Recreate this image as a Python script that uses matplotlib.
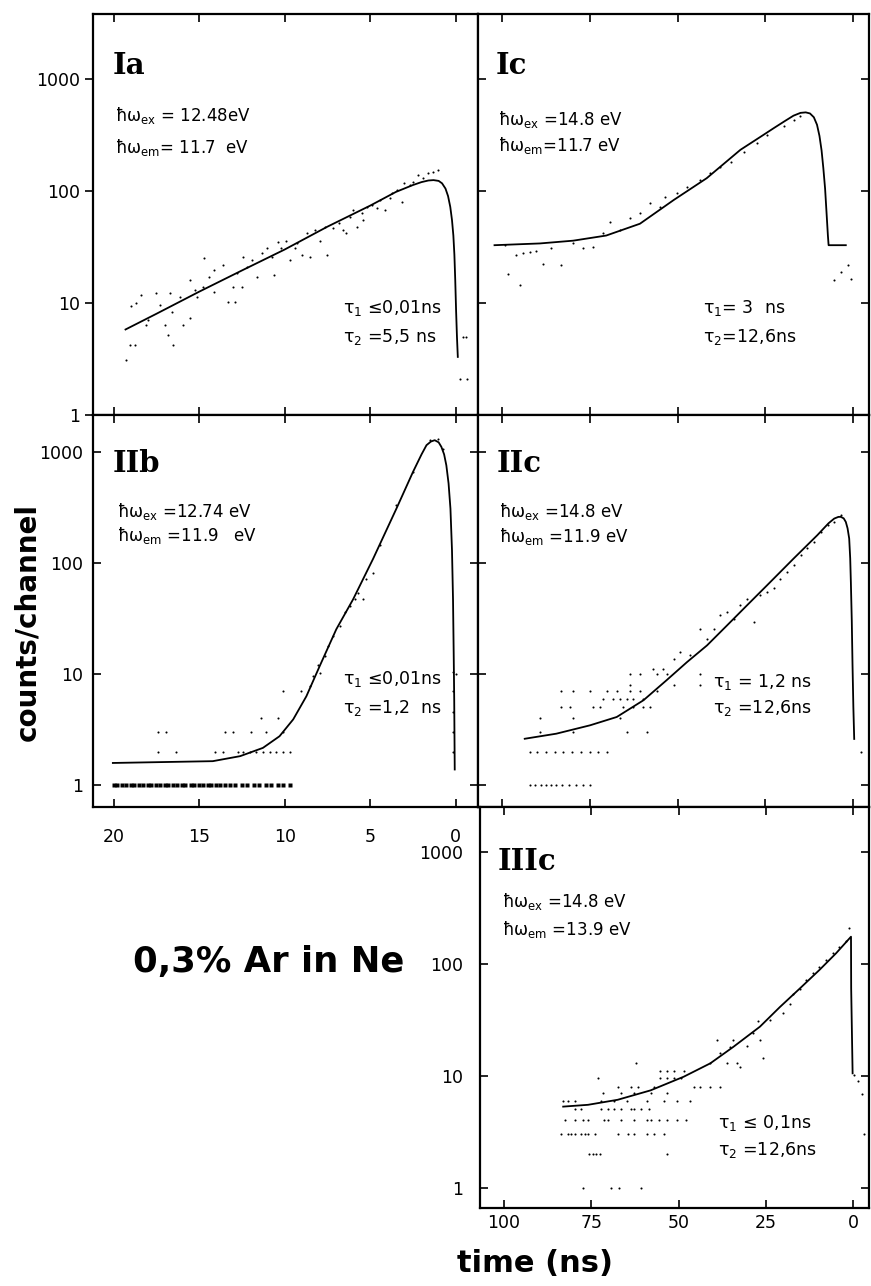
import matplotlib.pyplot as plt
from matplotlib.ticker import NullLocator

W, H = 871, 1286

# ---------------- data ----------------
# panel Ia (time in ns, counts per channel)
ia_fit_t = [19.3, 17.5, 15.0, 12.5, 10.0, 7.5, 5.0, 3.5, 2.5, 2.0, 1.6, 1.3,
            1.0, 0.8, 0.6, 0.45, 0.32, 0.22, 0.14, 0.08, 0.03, -0.02, -0.07,
            -0.12]
ia_fit_n = [5.8, 8.0, 12.6, 19.5, 30, 48, 74, 98, 113, 120, 124, 125,
            123, 117, 105, 90, 72, 55, 40, 27, 16, 8.5, 5, 3.3]
ia_pts_t = [19.26, 19.06, 18.77, 18.97, 18.67, 18.38, 18.09, 18.0, 17.5, 17.3,
            17.0, 16.8, 16.5, 16.6, 16.7, 16.1, 15.95, 15.55, 15.55, 15.26,
            15.1, 14.8, 14.7, 14.4, 14.1, 14.1, 13.6, 13.3, 13.0, 12.9,
            12.8, 12.5, 12.45, 12.2, 11.9, 11.6, 11.3, 11.05, 10.76, 10.6,
            10.4, 10.2, 9.9, 9.7, 9.4, 9.25, 9.0, 8.7, 8.5, 8.25,
            7.95, 7.55, 7.66, 7.2, 6.8, 6.6, 6.4, 6.2, 6.0, 5.8,
            5.5, 5.45, 5.2, 4.9, 4.6, 4.45, 4.15, 3.85, 3.7, 3.45,
            3.15, 3.0, 2.7, 2.5, 2.2, 1.9, 1.6, 1.35, 1.05,
            -0.41, -0.6, -0.23, -0.64]
ia_pts_n = [3.1, 4.2, 4.2, 9.4, 10, 11.8, 6.4, 7.0, 12.3, 9.6,
            6.4, 5.2, 4.2, 8.3, 12.3, 11.3, 6.4, 7.4, 16, 13,
            11.3, 14, 25, 17, 12.5, 19.7, 22, 10.2, 14, 10.2,
            18.5, 14, 25.7, 21, 24, 17, 28, 31, 25.7, 17.8,
            35, 31, 36, 24, 31, 34, 27, 42, 25.7, 45,
            36, 27, 48, 47, 52, 45, 42, 58, 67, 48,
            63, 55, 72, 75, 70, 83, 67, 86, 96, 102,
            80, 118, 113, 120, 139, 130, 145, 148, 154,
            5, 5, 2.1, 2.1]

# panel Ic
ic_fit_t = [102.1, 89.2, 79.7, 70.3, 60.7, 51.1, 41.7, 32.1, 26.0, 22.6,
            19.5, 17.0, 15.0, 13.5, 12.3, 11.2, 10.3, 9.6, 9.0, 8.5,
            8.0, 7.6, 7.2, 7.0, 2.1]
ic_fit_n = [32.8, 34, 36, 40, 51, 83, 130, 233, 310, 364,
            420, 470, 498, 503, 492, 455, 390, 310, 230, 160,
            105, 65, 40, 32.8, 32.8]
ic_pts_t = [99.2, 98.3, 94.9, 95.9, 94.0, 92.1, 90.2, 88.3, 85.9, 83.1,
            79.7, 76.9, 74.0, 71.1, 69.2, 66.4, 63.5, 60.7, 57.8, 54.9,
            53.5, 50.2, 47.3, 43.5, 40.7, 37.8, 34.9, 31.1, 27.3, 24.5,
            19.7, 16.9, 15.0, 5.4, 3.5, 1.6, 0.66]
ic_pts_n = [32.8, 18.3, 14.4, 26.7, 27.7, 28.3, 29.2, 22.5, 30.7, 21.7,
            34.4, 30.7, 31.7, 41.8, 53, 44.7, 56.9, 63, 77.5, 72,
            89, 95, 109, 125, 144, 165, 183, 225, 267, 317,
            377, 432, 463, 16, 19, 21.7, 16.5]

# panel IIb
iib_fit_t = [20.04, 14.2, 12.6, 11.27, 10.3, 9.5, 8.73, 7.95, 6.98, 6.0,
             4.83, 3.47, 2.5, 2.0, 1.71, 1.45, 1.23, 1.0, 0.84, 0.68,
             0.55, 0.42, 0.31, 0.22, 0.16, 0.12, 0.09, 0.06]
iib_fit_n = [1.58, 1.64, 1.82, 2.16, 2.75, 3.9, 6.3, 11.8, 25.3, 47,
             109, 308, 660, 950, 1150, 1240, 1275, 1220, 1110, 950,
             757, 520, 308, 130, 47, 15, 5.9, 1.38]
iib_ones_t = [20.0, 19.8, 19.5, 19.3, 19.0, 18.8, 18.5, 18.3, 18.0, 17.8,
              17.5, 17.3, 17.0, 16.8, 16.5, 16.3, 16.0, 15.8, 15.5, 15.3,
              15.0, 14.8, 14.5, 14.3, 14.0, 13.8, 13.5, 13.2, 12.9, 12.5,
              12.2, 11.8, 11.5, 11.1, 10.8, 10.4, 10.1, 9.7]
iib_pts_t = [17.41, 16.33, 14.09, 13.6, 12.73, 12.44, 12.05, 11.66, 11.27, 10.88,
             10.49, 10.1, 9.71,
             17.41, 16.92, 13.51, 13.02, 11.95, 11.07, 10.1,
             11.37, 10.39, 10.1,
             9.03, 8.54, 8.34, 8.05, 7.95, 7.66, 7.47, 7.18, 6.78, 6.49,
             6.2, 5.91, 5.71, 5.42, 5.23, 4.83, 4.44, 3.47, 2.5, 1.52,
             1.03, 0.74,
             0.16, 0.16, 0.16, 0.16, 0.16, -0.03]
iib_pts_n = [2, 2, 2, 2, 2, 2, 2, 2, 2, 2,
             2, 2, 2,
             3, 3, 3, 3, 3, 3, 3,
             4, 4, 7,
             7, 7.8, 9.6, 12, 10.3, 14.5, 17.7, 22, 27, 36,
             41, 47, 54, 47, 71, 82, 144, 330, 659, 1274,
             1320, 1070,
             10.4, 7, 4.5, 3, 2, 10]

# panel IIc
iic_fit_t = [93.5, 84.5, 74.9, 67.3, 59.7, 53.1, 47.3, 41.6, 35.9, 30.2,
             24.5, 16.9, 10.2, 7.0, 5.4, 4.2, 3.5, 2.7, 2.1, 1.6,
             1.14, 0.85, 0.66, 0.4, 0.19, -0.05, -0.29]
iic_fit_n = [2.61, 2.9, 3.45, 4.1, 5.8, 8.8, 12.8, 18.1, 27.4, 41.6,
             63, 110, 178, 228, 251, 260, 260, 252, 234, 205,
             166, 110, 67, 30, 12, 5, 2.6]
iic_ones_t = [92, 90.5, 89, 87.5, 86, 84.5, 83, 81, 79, 77, 75]
iic_twos_t = [92, 90, 87.5, 85, 82.5, 80, 77.5, 75, 72.5, 70]
iic_pts_t = [89.2, 79.7, 64.5, 58.8,
             89.2, 79.7, 66.4,
             83.1, 80.7, 74.0, 72.1, 65.4, 62.6, 59.7, 57.8,
             71.1, 68.3, 66.4, 64.5, 62.6, 59.7,
             83.1, 79.7, 74.9, 70.2, 67.3, 63.5, 60.7, 55.9,
             63.5, 51.1, 43.5,
             63.5, 60.7, 55.9, 53.1, 43.5,
             56.9, 54.0,
             51.1, 49.2, 46.4, 43.5, 41.6, 39.7, 37.8, 35.9, 34.0, 32.1,
             30.2, 28.3, 26.4, 24.5, 22.6, 20.7, 18.8, 16.9, 14.9, 13.1,
             11.1, 9.2, 7.3, 5.4, 3.5, -2.2]
iic_pts_n = [3, 3, 3, 3,
             4, 4, 4,
             5, 5, 5, 5, 5, 5, 5, 5,
             6, 6, 6, 6, 6, 6,
             7, 7, 7, 7, 7, 7, 7, 7,
             8, 8, 8,
             10, 10, 10, 10, 10,
             11, 11,
             13.7, 15.8, 14.7, 25.6, 20.8, 25.6, 33.8, 36.2, 31.5, 41.6,
             47.8, 29.4, 51, 55, 59, 72, 83, 95, 117, 135,
             155, 190, 218, 234, 268, 2]

# panel IIIc
iiic_fit_t = [83.0, 75.9, 67.4, 58.0, 48.5, 40.9, 34.3, 26.7, 21.0, 15.3,
              9.66, 4.9, 0.65, 0.6, 0.19]
iiic_fit_n = [5.3, 5.5, 6.1, 7.4, 9.8, 12.9, 18.1, 27.4, 41, 60,
              88, 124, 174, 60, 10.5]
iiic_pts_t = [77.4, 69.3, 67.0, 60.8,
              75.5, 74.5, 73.6, 72.6, 53.2,
              83.5, 81.6, 80.7, 79.7, 77.8, 76.9, 75.9, 74.0, 67.4, 64.5,
              62.7, 58.9, 57.0, 54.2,
              82.6, 79.7, 77.4, 75.9, 71.2, 70.3, 66.5, 62.7, 58.9, 57.9,
              55.6, 53.2, 50.4, 48.0,
              79.7, 77.8, 72.2, 70.3, 68.4, 66.5, 63.6, 62.7, 60.8, 58.4,
              83.0, 81.6, 79.7, 72.2, 68.4, 64.6, 58.9, 54.2, 50.4, 46.6,
              71.7, 66.5, 62.7, 58.0, 53.2,
              67.4, 63.6, 61.7, 57.0, 45.6, 43.8, 40.9, 38.1,
              73.1, 55.2, 53.2, 51.3, 49.4,
              55.2, 53.2, 51.3, 48.5,
              62.2, 40.9, 36.2,
              39.0, 38.1, 35.2, 34.3, 33.3, 32.4, 30.5, 28.6, 27.2, 26.7,
              25.8, 23.9, 20.1, 18.2, 17.2, 15.3, 13.4, 11.6, 9.7, 7.8,
              5.9, 3.98, 2.1, 1.1,
              -0.28, -2.6, -3.1, -1.3]
iiic_pts_n = [1, 1, 1, 1,
              2, 2, 2, 2, 2,
              3, 3, 3, 3, 3, 3, 3, 3, 3, 3,
              3, 3, 3, 3,
              4, 4, 4, 4, 4, 4, 4, 4, 4, 4,
              4, 4, 4, 4,
              5, 5, 5, 5, 5, 5, 5, 5, 5, 5,
              6, 6, 6, 6, 6, 6, 6, 6, 6, 6,
              7, 7, 7, 7, 7,
              8, 8, 8, 8, 8, 8, 8, 8,
              9.5, 9.5, 9.5, 9.5, 9.5,
              11, 11, 11, 11,
              13, 13, 13,
              20.8, 15.8, 18, 20.8, 13, 12, 18.6, 23.9, 30.5, 20.8,
              14.3, 31.6, 36, 44, 54, 60, 72, 82, 94, 108,
              124, 141, 158, 207,
              10.2, 6.9, 3.0, 9]

# panel texts
labels = ["Ia", "Ic", "IIb", "IIc", "IIIc"]
ex_text = [" = 12.48eV", " =14.8 eV", " =12.74 eV", " =14.8 eV", " =14.8 eV"]
em_text = ["= 11.7  eV", "=11.7 eV", " =11.9   eV", " =11.9 eV", " =13.9 eV"]
tau1_text = [" \u22640,01ns", "= 3  ns", " \u22640,01ns", " = 1,2 ns", " \u2264 0,1ns"]
tau2_text = [" =5,5 ns", "=12,6ns", " =1,2  ns", " =12,6ns", " =12,6ns"]

# ---------------- figure ----------------
plt.rcParams['font.family'] = ['DejaVu Sans']
plt.rcParams['mathtext.fontset'] = 'dejavusans'
fig = plt.figure(figsize=(W / 100, H / 100), dpi=100)


def box(x0, y0, x1, y1):
    return [x0 / W, 1 - y1 / H, (x1 - x0) / W, (y1 - y0) / H]


ax_ia = fig.add_axes(box(93, 14, 478, 415))
ax_ic = fig.add_axes(box(478, 14, 869, 415))
ax_iib = fig.add_axes(box(93, 415, 478, 807))
ax_iic = fig.add_axes(box(478, 415, 869, 807))
ax_iiic = fig.add_axes(box(480, 807, 869, 1208))

left_x = (21.2, -1.3)
right_x = (106.8, -4.5)

for ax, xl, yl, xt in [(ax_ia, left_x, (1, 3800), [20, 15, 10, 5, 0]),
                       (ax_ic, right_x, (1, 3800), [100, 75, 50, 25, 0]),
                       (ax_iib, left_x, (0.634, 2150), [20, 15, 10, 5, 0]),
                       (ax_iic, right_x, (0.634, 2150), [100, 75, 50, 25, 0]),
                       (ax_iiic, right_x, (0.66, 2500), [100, 75, 50, 25, 0])]:
    ax.set_yscale('log')
    ax.set_xlim(*xl)
    ax.set_ylim(*yl)
    ax.set_xticks(xt)
    ax.set_yticks([1, 10, 100, 1000])
    ax.yaxis.set_minor_locator(NullLocator())
    ax.xaxis.set_minor_locator(NullLocator())
    ax.tick_params(direction='in', length=6, width=1.2, top=True, right=True,
                   labelbottom=False, labelleft=False, labelsize=12.5)
    for s in ax.spines.values():
        s.set_linewidth(1.6)

for ax in [ax_ia, ax_iib, ax_iiic]:
    ax.tick_params(axis='y', labelleft=True)
    ax.set_yticklabels(['1', '10', '100', '1000'])
ax_ia.tick_params(axis='y', direction='out', pad=3)
ax_iib.tick_params(axis='y', pad=7)
ax_iiic.tick_params(axis='y', pad=12)
ax_iib.tick_params(axis='x', labelbottom=True, pad=15)
ax_iib.set_xticklabels(['20', '15', '10', '5', '0'])
ax_iiic.tick_params(axis='x', labelbottom=True, pad=4)
ax_iiic.set_xticklabels(['100', '75', '50', '25', '0'])

dot = dict(linestyle='none', marker='o', ms=1.5, color='black', mec='none')
fit = dict(color='black', lw=1.3)

ax_ia.plot(ia_pts_t, ia_pts_n, **dot)
ax_ia.plot(ia_fit_t, ia_fit_n, **fit)
ax_ic.plot(ic_pts_t, ic_pts_n, **dot)
ax_ic.plot(ic_fit_t, ic_fit_n, **fit)
ax_iib.plot(iib_ones_t, [1] * len(iib_ones_t), linestyle='none', marker='s',
            ms=2.2, color='black', mec='none')
ax_iib.plot(iib_pts_t, iib_pts_n, **dot)
ax_iib.plot(iib_fit_t, iib_fit_n, **fit)
ax_iic.plot(iic_ones_t, [1] * len(iic_ones_t), **dot)
ax_iic.plot(iic_twos_t, [2] * len(iic_twos_t), **dot)
ax_iic.plot(iic_pts_t, iic_pts_n, **dot)
ax_iic.plot(iic_fit_t, iic_fit_n, **fit)
ax_iiic.plot(iiic_pts_t, iiic_pts_n, **dot)
ax_iiic.plot(iiic_fit_t, iiic_fit_n, **fit)


def ftext(x, y, s, **kw):
    fig.text(x / W, 1 - y / H, s, va='center', **kw)


# label position, energy lines, tau lines (pixel coords)
pos = [((113, 66), (115, 115, 147), (343, 308, 337)),
       ((496, 66), (498, 120, 145), (703, 308, 337)),
       ((113, 464), (117, 511, 536), (343, 679, 708)),
       ((497, 464), (499, 511, 537), (713, 682, 708)),
       ((498, 862), (502, 902, 929), (718, 1123, 1150))]

for i, lab in enumerate(labels):
    (lx, ly), (ex, ey1, ey2), (tx, ty1, ty2) = pos[i]
    ftext(lx, ly, lab, fontsize=21, fontweight='bold', family='DejaVu Serif')
    ftext(ex, ey1, "\u0127\u03c9" + r"$_{\rm ex}$" + ex_text[i], fontsize=12)
    ftext(ex, ey2, "\u0127\u03c9" + r"$_{\rm em}$" + em_text[i], fontsize=12)
    ftext(tx, ty1, "\u03c4" + r"$_1$" + tau1_text[i], fontsize=12.5)
    ftext(tx, ty2, "\u03c4" + r"$_2$" + tau2_text[i], fontsize=12.5)

ftext(269, 962, "0,3% Ar in Ne", fontsize=25.5, fontweight='bold', ha='center')
ftext(27, 622, "counts/channel", fontsize=20, fontweight='bold', ha='center',
      rotation=90)
ftext(535, 1264, "time (ns)", fontsize=22, fontweight='bold', ha='center')

fig.savefig("out.png", dpi=100, facecolor='white')
